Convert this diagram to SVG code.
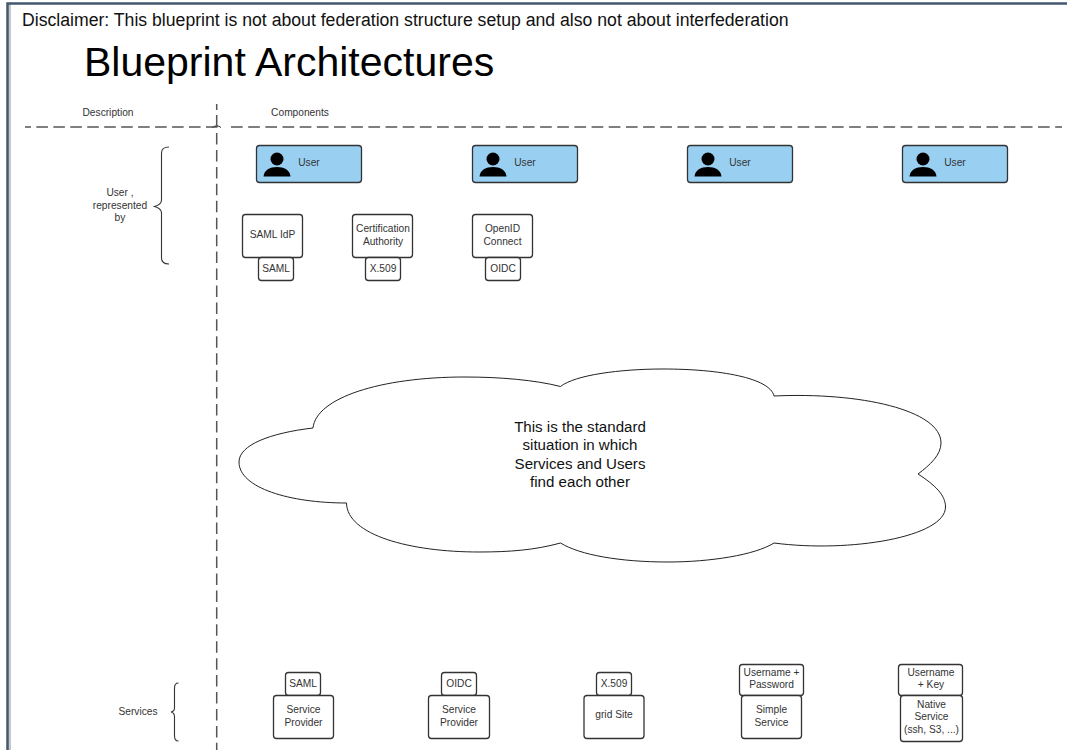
<svg xmlns="http://www.w3.org/2000/svg" width="1067" height="750" viewBox="0 0 1067 750">
<defs>
<style>
text{font-family:"Liberation Sans",Arial,sans-serif;fill:#333;font-size:10.200px;text-anchor:middle}
.box{fill:#fff;stroke:#333;stroke-width:1.3}
.user{fill:#99d0f2;stroke:#333;stroke-width:1.3}
.dash{fill:none;stroke:#555;stroke-width:1.5}
.brace{fill:none;stroke:#333;stroke-width:1.1}
</style>
<g id="person"><circle cx="0" cy="-5" r="6.5" fill="#000"/><path d="M-13.500 12.500C-13 6 -7 3 0 3C7 3 13 6 13.500 12.500Z" fill="#000"/></g>
</defs>
<rect width="1067" height="750" fill="#fff"/>
<rect x="8" y="4" width="3" height="746" fill="#c8c8c8"/>
<path d="M7.500 750V3.500H1067" fill="none" stroke="#44586f" stroke-width="2.500"/>
<text x="22" y="26" style="font-size:17.650px;fill:#111;text-anchor:start">Disclaimer: This blueprint is not about federation structure setup and also not about interfederation</text>
<text x="84" y="76" style="font-size:41px;fill:#000;text-anchor:start">Blueprint Architectures</text>
<text x="108" y="116">Description</text>
<text x="300" y="116">Components</text>
<text x="120" y="196"><tspan x="120">User ,</tspan><tspan x="120" dy="12.500">represented</tspan><tspan x="120" dy="12.500">by</tspan></text>
<text x="138" y="715">Services</text>
<g id="connectors">
<path class="dash" d="M25 127H220" stroke-dasharray="11.600 5.360" stroke-dashoffset="5.600"/>
<path class="dash" d="M231 127H1062" stroke-dasharray="11.700 5.470"/>
<path d="M212.500 127.500Q216.700 124 221 127.500" fill="none" stroke="#333" stroke-width="1"/>
<path class="dash" d="M216.700 104V110M216.700 115V127"/>
<path class="dash" d="M216.700 133V750" stroke-dasharray="11.500 5.440"/>
<path class="brace" d="M169 147C164 147 161.500 149 161.500 153V200C161.500 204 158 205.500 154.500 206.500C158 207.500 161.500 209 161.500 213V258C161.500 262 164 264 169 264"/>
<path class="brace" d="M178.500 683C176 683 174.500 685 174.500 688V708C174.500 710.500 173 711.500 171 712C173 712.500 174.500 714 174.500 716.500V736C174.500 739 176 741 178.500 741"/>
</g>
<g id="user1"><rect class="user" x="256.500" y="145.500" width="105" height="37" rx="3"/><use href="#person" x="277" y="164"/><text x="309" y="166">User</text></g>
<g id="user2"><rect class="user" x="472.500" y="145.500" width="105" height="37" rx="3"/><use href="#person" x="493" y="164"/><text x="525" y="166">User</text></g>
<g id="user3"><rect class="user" x="687.500" y="145.500" width="105" height="37" rx="3"/><use href="#person" x="708" y="164"/><text x="740" y="166">User</text></g>
<g id="user4"><rect class="user" x="902.500" y="145.500" width="105" height="37" rx="3"/><use href="#person" x="923" y="164"/><text x="955" y="166">User</text></g>
<g id="idp-saml"><rect class="box" x="242.500" y="214.500" width="60" height="43" rx="3"/><text x="272.500" y="238">SAML IdP</text></g>
<g id="tag-saml"><rect class="box" x="258.500" y="257.500" width="35" height="23" rx="3"/><text x="276" y="272">SAML</text></g>
<g id="idp-ca"><rect class="box" x="352.500" y="214.500" width="60" height="43" rx="3"/><text x="383" y="232"><tspan x="383">Certification</tspan><tspan x="383" dy="12.500">Authority</tspan></text></g>
<g id="tag-x509"><rect class="box" x="365.500" y="257.500" width="35" height="23" rx="3"/><text x="383" y="272">X.509</text></g>
<g id="idp-oidc"><rect class="box" x="472.500" y="214.500" width="60" height="43" rx="3"/><text x="502.500" y="232"><tspan x="502.500">OpenID</tspan><tspan x="502.500" dy="12.500">Connect</tspan></text></g>
<g id="tag-oidc"><rect class="box" x="485.500" y="257.500" width="35" height="23" rx="3"/><text x="503" y="272">OIDC</text></g>
<g id="cloud">
<path d="M313 428C316 398 380 377 465 377C500 377 535 380 560.500 386.500C575 375 620 369 663 369C720 369 770 378 774 396C860 392 941 410 941 443C941 455 930 465 918 474C935 485 945.500 495 945.500 507C945.500 537 850 553 774 543C755 555 710 562 668 562C620 562 580 555 560.500 543C535 550 510 552 479 552C410 552 347 535 346.500 503C290 503 239 488 239 462C239 445 270 433 313 428Z" fill="#fff" stroke="#222" stroke-width="1"/>
<text x="580" y="432" style="font-size:15.100px;fill:#111"><tspan x="580">This is the standard</tspan><tspan x="580" dy="18.300">situation in which</tspan><tspan x="580" dy="18.300">Services and Users</tspan><tspan x="580" dy="18.300">find each other</tspan></text>
</g>
<g id="tag-s1"><rect class="box" x="285.500" y="672.500" width="35" height="23" rx="3"/><text x="303" y="687">SAML</text></g>
<g id="svc1"><rect class="box" x="273.500" y="695.500" width="60" height="43" rx="3"/><text x="303.500" y="713"><tspan x="303.500">Service</tspan><tspan x="303.500" dy="12.500">Provider</tspan></text></g>
<g id="tag-s2"><rect class="box" x="441.500" y="672.500" width="35" height="23" rx="3"/><text x="459" y="687">OIDC</text></g>
<g id="svc2"><rect class="box" x="428.500" y="695.500" width="61" height="43" rx="3"/><text x="459" y="713"><tspan x="459">Service</tspan><tspan x="459" dy="12.500">Provider</tspan></text></g>
<g id="tag-s3"><rect class="box" x="596.500" y="672.500" width="35" height="23" rx="3"/><text x="614" y="687">X.509</text></g>
<g id="svc3"><rect class="box" x="584" y="695.500" width="60" height="43" rx="3"/><text x="614" y="718">grid Site</text></g>
<g id="tag-s4"><rect class="box" x="739.500" y="664.500" width="64" height="31" rx="3"/><text x="771.500" y="675.500"><tspan x="771.500">Username +</tspan><tspan x="771.500" dy="12.500">Password</tspan></text></g>
<g id="svc4"><rect class="box" x="741.500" y="695.500" width="60" height="43" rx="3"/><text x="771.500" y="713"><tspan x="771.500">Simple</tspan><tspan x="771.500" dy="12.500">Service</tspan></text></g>
<g id="tag-s5"><rect class="box" x="898.500" y="664.500" width="64" height="31" rx="3"/><text x="931" y="675.500"><tspan x="931">Username</tspan><tspan x="931" dy="12.500">+ Key</tspan></text></g>
<g id="svc5"><rect class="box" x="900.500" y="695.500" width="62" height="46" rx="3"/><text x="931.500" y="707.500"><tspan x="931.500">Native</tspan><tspan x="931.500" dy="12.500">Service</tspan><tspan x="931.500" dy="12.500">(ssh, S3, ...)</tspan></text></g>
</svg>
